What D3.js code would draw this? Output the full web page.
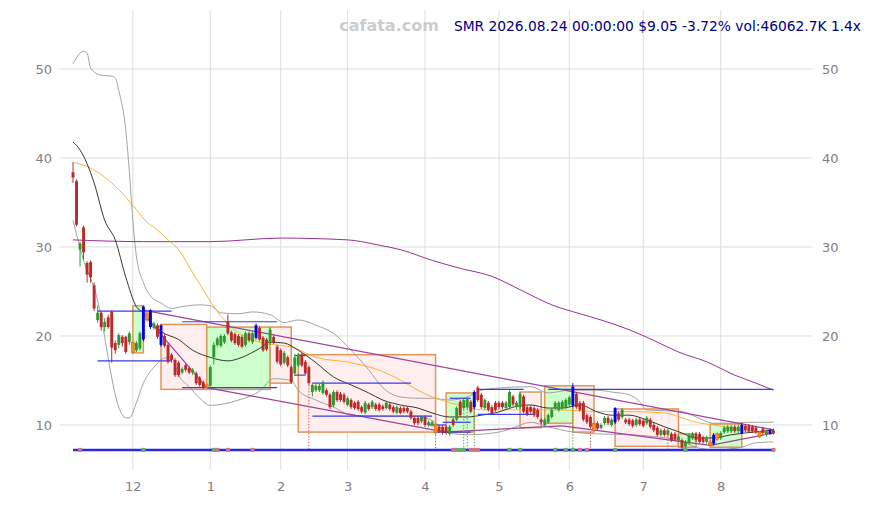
<!DOCTYPE html>
<html>
<head>
<meta charset="utf-8">
<script src="https://cdn.jsdelivr.net/npm/d3@7"></script>
<style>
  body { margin: 0; background: #fff; }
  svg { display: block; font-family: "DejaVu Sans", sans-serif; }
</style>
</head>
<body>
<svg id="chart"></svg>
<script>
// ---- data ----
const ticker = "SMR";
const titleText = "SMR 2026.08.24 00:00:00 $9.05 -3.72% vol:46062.7K 1.4x";
const firstDay = "2025-11-05";
const holidays = ["2025-11-27", "2025-12-25", "2026-01-01", "2026-01-19", "2026-02-16",
                  "2026-04-03", "2026-05-25", "2026-06-19", "2026-07-03"];

const open = [
  38.4, 37.4, 29.7, 32.2, 28.2, 28.3, 25.7, 21.8, 22.6, 21.0,
  22.1, 22.7, 19.2, 19.0, 19.9, 19.9, 19.3, 19.3, 18.4, 18.6,
  19.6, 22.6, 22.9, 20.9, 21.2, 21.2, 20.0, 19.0, 17.9, 17.3,
  17.0, 15.9, 16.7, 16.4, 15.85, 15.8, 15.3, 14.8, 14.5, 14.4,
  17.6, 19.0, 18.9, 19.3, 21.6, 20.4, 20.2, 20.0, 19.9, 19.0,
  20.3, 19.3, 19.8, 20.9, 19.8, 19.6, 19.2, 19.9, 18.8, 18.4,
  16.97, 17.6, 16.5, 15.8, 16.7, 17.9, 17.1, 16.5, 13.7, 13.9,
  13.9, 13.6, 13.9, 13.4, 12.2, 13.7, 13.5, 13.4, 12.25, 12.8,
  12.5, 12.6, 12.0, 11.4, 12.3, 12.0, 12.3, 12.3, 12.1, 11.9,
  12.3, 12.0, 11.4, 11.9, 11.9, 11.9, 11.5, 10.8, 10.8, 10.4,
  10.9, 10.0, 10.0, 10.1, 9.8, 9.8, 9.8, 9.0, 10.6, 10.6,
  12.6, 11.9, 12.0, 12.6, 12.0, 14.2, 13.4, 11.9, 12.5, 12.0,
  12.5, 12.5, 12.5, 11.9, 12.0, 13.2, 12.0, 12.0, 13.2, 12.0,
  12.0, 11.9, 11.7, 10.6, 10.0, 10.3, 10.9, 11.9, 11.7, 11.9,
  12.0, 12.3, 12.2, 13.5, 12.5, 12.5, 11.1, 10.9, 10.2, 10.2,
  9.66, 10.2, 10.8, 10.0, 10.3, 11.3, 10.9, 10.6, 10.6, 10.5,
  10.0, 10.6, 10.5, 10.2, 10.6, 10.0, 9.7, 8.9, 9.4, 8.9,
  9.0, 9.0, 8.3, 8.3, 7.6, 8.0, 8.5, 9.0, 9.0, 8.6,
  8.1, 8.1, 7.9, 9.0, 8.5, 9.2, 9.3, 9.3, 9.8, 9.3,
  9.1, 9.9, 9.9, 9.8, 9.7, 9.2, 9.6, 8.9, 9.0, 9.4
];
const close = [
  37.8, 32.5, 30.4, 29.4, 26.9, 26.6, 23.1, 22.6, 21.0, 21.6,
  21.0, 18.7, 18.4, 20.1, 19.2, 18.2, 20.3, 18.1, 19.2, 20.3,
  23.3, 21.8, 21.0, 21.4, 19.9, 19.0, 18.9, 17.1, 17.3, 15.6,
  15.6, 16.3, 16.2, 15.9, 16.2, 14.7, 14.5, 14.2, 14.2, 16.5,
  19.0, 19.7, 20.0, 20.0, 20.3, 19.5, 19.2, 19.0, 18.8, 20.3,
  19.5, 20.3, 21.2, 19.6, 18.4, 18.5, 20.7, 19.3, 17.1, 16.8,
  18.1, 16.7, 14.8, 17.6, 17.9, 16.7, 15.8, 14.7, 14.5, 14.4,
  14.4, 14.8, 13.4, 12.0, 13.7, 12.8, 12.8, 12.6, 13.0, 12.0,
  11.9, 11.8, 11.5, 12.5, 11.8, 12.6, 11.8, 11.7, 11.8, 12.5,
  11.8, 11.5, 12.0, 11.35, 11.5, 11.5, 10.8, 10.2, 10.2, 10.9,
  10.0, 10.3, 10.3, 9.1, 9.3, 9.1, 9.1, 9.8, 10.0, 11.9,
  11.1, 12.8, 12.9, 11.5, 13.7, 12.8, 12.0, 12.8, 11.7, 11.35,
  11.7, 12.0, 12.0, 12.5, 13.7, 12.3, 12.5, 13.5, 11.5, 11.2,
  11.5, 11.1, 10.9, 10.3, 10.6, 11.1, 11.7, 12.5, 12.5, 12.6,
  12.8, 13.1, 14.3, 12.0, 11.7, 10.6, 10.3, 9.8, 9.4, 9.6,
  10.0, 10.8, 10.2, 10.6, 11.9, 10.6, 11.7, 10.3, 10.1, 9.9,
  10.6, 10.1, 9.9, 10.8, 9.8, 9.4, 8.9, 9.4, 8.9, 9.4,
  8.3, 8.4, 8.7, 7.5, 8.1, 8.9, 9.0, 8.3, 8.1, 8.1,
  8.6, 7.7, 8.9, 8.4, 9.1, 9.7, 9.8, 9.8, 9.3, 9.8,
  10.0, 9.4, 9.3, 9.3, 9.2, 8.65, 9.1, 9.3, 9.4, 9.05
];
const high = [
  39.5, 37.6, 30.6, 32.4, 28.4, 28.5, 26.0, 23.4, 22.8, 22.0,
  22.4, 22.9, 19.5, 20.3, 20.1, 20.0, 20.5, 19.5, 19.4, 20.5,
  23.4, 22.8, 23.0, 21.6, 21.4, 21.3, 20.2, 19.2, 18.1, 17.5,
  17.2, 16.5, 16.9, 16.6, 16.4, 16.0, 15.5, 15.0, 14.8, 16.7,
  19.3, 19.9, 20.2, 20.2, 22.4, 20.6, 20.4, 20.2, 20.1, 20.5,
  20.5, 20.5, 21.4, 21.1, 20.0, 19.8, 20.9, 20.1, 19.0, 18.6,
  18.3, 17.8, 16.7, 18.0, 18.1, 18.1, 17.3, 16.7, 14.7, 14.6,
  14.6, 15.0, 14.1, 13.6, 13.9, 13.9, 13.7, 13.6, 13.2, 13.0,
  12.7, 12.8, 12.2, 12.7, 12.5, 12.8, 12.5, 12.5, 12.3, 12.7,
  12.5, 12.2, 12.2, 12.1, 12.1, 12.1, 11.7, 11.0, 11.0, 11.1,
  11.1, 10.5, 10.5, 10.3, 10.0, 10.0, 10.0, 10.0, 10.8, 12.1,
  12.8, 13.0, 13.1, 12.8, 13.9, 14.4, 13.6, 13.0, 12.7, 12.2,
  12.7, 12.7, 12.7, 12.7, 13.9, 13.4, 12.7, 13.7, 13.4, 12.2,
  12.2, 12.1, 11.9, 10.8, 10.8, 11.3, 11.9, 12.7, 12.7, 12.8,
  13.0, 13.3, 14.7, 13.7, 12.7, 12.7, 11.3, 11.1, 10.4, 10.4,
  10.2, 11.0, 11.0, 10.8, 12.0, 11.5, 11.9, 10.8, 10.8, 10.7,
  10.8, 10.8, 10.7, 11.0, 10.8, 10.2, 9.9, 9.6, 9.6, 9.6,
  9.2, 9.2, 8.9, 8.5, 8.3, 9.1, 9.2, 9.2, 9.2, 8.8,
  8.8, 8.3, 9.1, 9.2, 9.3, 9.9, 10.0, 10.0, 10.0, 10.0,
  10.2, 10.1, 10.1, 10.0, 9.9, 9.4, 9.8, 9.5, 9.6, 9.6
];
const low = [
  37.2, 32.3, 27.8, 28.6, 26.0, 26.0, 22.8, 21.5, 20.6, 20.5,
  20.8, 17.0, 18.0, 18.6, 18.8, 18.0, 19.0, 18.0, 18.2, 18.4,
  19.4, 21.6, 20.8, 20.7, 19.7, 18.8, 18.7, 16.9, 17.0, 15.4,
  15.4, 15.7, 16.0, 15.7, 15.6, 14.5, 14.3, 14.0, 14.0, 14.3,
  16.8, 18.8, 18.7, 19.1, 20.1, 19.3, 19.0, 18.8, 18.6, 18.8,
  19.3, 19.1, 19.6, 19.4, 18.2, 18.3, 19.0, 19.1, 16.9, 16.6,
  16.8, 16.5, 14.6, 15.5, 16.5, 16.5, 15.6, 14.5, 13.2, 13.7,
  13.7, 13.4, 13.2, 11.8, 12.0, 12.6, 12.6, 12.4, 12.1, 11.8,
  11.7, 11.6, 11.3, 11.2, 11.6, 11.8, 11.6, 11.5, 11.6, 11.7,
  11.6, 11.3, 11.2, 11.2, 11.3, 11.3, 10.6, 10.0, 10.0, 10.2,
  9.8, 9.8, 9.8, 8.9, 9.1, 8.9, 8.9, 8.8, 9.8, 10.4,
  10.9, 11.7, 11.8, 11.3, 11.8, 12.6, 11.8, 11.7, 11.5, 11.2,
  11.5, 11.8, 11.8, 11.7, 11.8, 12.1, 11.8, 11.8, 11.3, 11.0,
  11.3, 10.9, 10.7, 10.1, 9.8, 10.1, 10.7, 11.7, 11.5, 11.7,
  11.8, 12.1, 12.0, 11.8, 11.5, 10.4, 10.1, 9.6, 9.2, 9.4,
  9.5, 10.0, 10.0, 9.8, 10.1, 10.4, 10.7, 10.1, 9.9, 9.7,
  9.8, 9.9, 9.7, 10.0, 9.6, 9.2, 8.7, 8.7, 8.7, 8.7,
  8.1, 8.2, 8.1, 7.3, 7.4, 7.8, 8.3, 8.1, 7.9, 7.9,
  7.9, 7.5, 7.7, 8.2, 8.3, 9.0, 9.1, 9.1, 9.1, 9.1,
  9.0, 9.2, 9.1, 9.1, 9.0, 8.5, 8.9, 8.7, 8.9, 8.9
];
// candles drawn in signal colours
const blueIdx = [20, 22, 25, 52, 114, 142, 154, 182, 190, 198];
const orangeIdx = [17, 21, 38, 103, 148, 181, 183, 195];

// indicator lines: [candle index, price]
const ma20 = [[0,41.8],[2,40.9],[6,37.2],[9,33.0],[12,30.8],[15,26.6],[18,23.3],[20,22.6],[22,21.6],
  [25,20.5],[30,19.6],[34,18.4],[39,17.6],[44,17.2],[48,17.6],[53,18.6],[56,19.3],[60,19.2],
  [64,18.4],[69,17.0],[74,15.4],[79,14.5],[84,13.6],[88,12.8],[93,12.25],[98,11.9],[102,11.35],
  [107,10.9],[112,10.9],[116,11.1],[121,11.46],[125,12.0],[130,12.25],[135,11.9],[139,11.9],
  [144,12.25],[149,11.46],[153,11.1],[158,11.1],[163,10.56],[168,9.8],[173,9.1],[177,8.54],
  [182,8.54],[187,8.9],[191,9.1],[199,9.44]];
const ma50 = [[0,39.5],[3,39.2],[7,38.4],[11,37.2],[15,35.6],[18,34.2],[21,32.8],[24,31.9],[27,30.8],
  [30,29.7],[34,27.1],[37,25.2],[40,23.3],[45,21.0],[49,19.9],[53,19.3],[63,18.65],[69,17.6],
  [79,17.0],[88,16.0],[93,15.05],[98,13.9],[102,13.15],[107,12.5],[112,12.0],[116,11.7],
  [125,11.7],[135,11.7],[144,11.6],[149,11.5],[158,11.5],[168,11.35],[173,10.8],[177,10.3],
  [182,10.0],[187,9.66],[191,9.3],[199,9.1]];
const ma200 = [[0,30.8],[20,30.6],[39,30.6],[59,31.0],[78,30.8],[87,30.2],[93,29.7],[102,28.5],
  [110,27.6],[119,26.7],[127,25.2],[136,23.5],[144,22.5],[150,21.8],[158,20.7],[165,19.5],
  [172,18.2],[180,17.1],[188,15.6],[194,14.7],[199,13.9]];
const bandUpper = [[0,50.6],[3,52.0],[4,51.8],[5,50.1],[8,49.3],[11,49.2],[12,49.0],[13,47.6],
  [15,43.1],[16,38.5],[17,33.0],[18,29.0],[20,26.0],[22,24.5],[25,23.7],[28,23.1],[31,23.3],
  [36,23.5],[39,23.4],[42,22.6],[47,22.5],[51,22.7],[56,22.4],[60,21.5],[64,21.8],[69,21.2],
  [74,20.3],[79,18.4],[84,16.2],[88,14.2],[93,13.15],[98,13.0],[102,13.0],[107,12.8],
  [112,13.15],[116,13.9],[121,14.16],[130,14.3],[135,13.6],[141,13.9],[149,13.9],[153,13.7],
  [158,13.4],[161,12.6],[163,11.7],[173,11.5],[177,10.9],[182,10.2],[187,10.2],[191,10.3],[199,10.3]];
const bandLower = [[0,33.0],[3,28.5],[7,24.0],[9,19.9],[10,17.5],[13,12.0],[15,10.8],[16,10.8],
  [18,12.5],[20,14.7],[23,16.5],[26,17.5],[28,17.6],[30,15.6],[33,14.3],[36,13.0],[39,12.2],
  [47,12.8],[53,13.8],[57,15.2],[62,15.0],[64,13.9],[69,12.8],[74,12.0],[79,11.1],[87,11.0],
  [98,11.0],[102,10.5],[107,9.1],[112,8.9],[121,9.2],[125,9.66],[130,10.3],[135,9.8],
  [142,9.2],[149,9.0],[158,8.9],[172,8.3],[177,7.5],[182,7.2],[190,7.5],[194,8.0],[199,8.1]];

// trend lines: [start index, start price, end index, end price]
const trendLines = [[20,22.9,199,9.45],[21,22.0,38,14.2],[38,14.2,105,9.25],
  [105,9.2,139,9.9],[139,9.9,181,7.7],[181,7.7,199,9.1]];
// support / resistance segments: [start index, end index, price]
const levels = [[7,28,22.8],[7,28,17.2],[31,58,21.6],[31,58,14.2],[63,66,17.8],[63,66,15.6],
  [68,96,14.7],[68,102,11.0],[101,106,10.0],[103,113,9.2],[107,113,13.0],[105,113,10.3],
  [115,128,14.0],[115,131,11.2],[135,199,14.0]];
const baseLevel = 7.2;
// boxes: [start index, end index, top, bottom, kind]
const boxes = [[17,20,23.4,18.1,"up"],[25,38,21.3,14.0,"down"],[38,56,21.0,14.0,"up"],
  [56,62,21.0,14.7,"down"],[64,103,17.9,9.2,"down"],[106,114,13.6,9.2,"up"],
  [127,133,13.7,9.7,"down"],[134,142,14.4,10.2,"up"],[142,148,14.4,9.2,"down"],
  [154,172,11.8,7.6,"down"],[172,177,9.0,7.5,"up"],[181,190,10.1,7.5,"up"]];
// signal markers on the base line and dotted drops
const upMarks = [20, 40, 109, 110, 111, 124, 127, 137, 140, 142, 154, 174];
const downMarks = [2, 41, 44, 51, 108, 113, 114, 115, 144, 146, 199];
const upDrops = [111, 112, 114, 142];
const downDrops = [67, 103, 147, 169];

const yTicks = [10, 20, 30, 40, 50];

// ---- trading calendar ----
const parse = d3.utcParse("%Y-%m-%d");
const fmt = d3.utcFormat("%Y-%m-%d");
const dates = [];
let day = parse(firstDay);
while (dates.length < close.length) {
  const wd = day.getUTCDay();
  if (wd !== 0 && wd !== 6 && !holidays.includes(fmt(day))) dates.push(day);
  day = d3.utcDay.offset(day, 1);
}
const monthStarts = [];
dates.forEach((d, i) => {
  if (i > 0 && d.getUTCMonth() !== dates[i - 1].getUTCMonth()) monthStarts.push(i);
});

// ---- layout ----
const W = 871, H = 505;
const plot = { left: 60, right: 812, top: 10, bottom: 470 };

const svg = d3.select("#chart").attr("width", W).attr("height", H);

const x = d3.scaleLinear().domain([0, close.length - 1]).range([73, 773.5]);
const y = d3.scaleLinear().domain([4.94, 56.63]).range([plot.bottom, plot.top]);

// grid
svg.append("g").selectAll("line").data(yTicks).join("line")
  .attr("x1", plot.left).attr("x2", plot.right)
  .attr("y1", d => y(d)).attr("y2", d => y(d))
  .attr("stroke", "#dedede").attr("stroke-width", 1);
svg.append("g").selectAll("line").data(monthStarts).join("line")
  .attr("x1", d => x(d)).attr("x2", d => x(d))
  .attr("y1", plot.top).attr("y2", plot.bottom)
  .attr("stroke", "#dedede").attr("stroke-width", 1);

// axes
const axisL = svg.append("g").attr("transform", `translate(${plot.left - 8},0)`)
  .call(d3.axisLeft(y).tickValues(yTicks).tickSize(0).tickPadding(0));
const axisR = svg.append("g").attr("transform", `translate(${plot.right + 10},0)`)
  .call(d3.axisRight(y).tickValues(yTicks).tickSize(0).tickPadding(0));
const axisB = svg.append("g").attr("transform", `translate(0,${plot.bottom + 8})`)
  .call(d3.axisBottom(x).tickValues(monthStarts).tickSize(0).tickPadding(4)
    .tickFormat(i => String(dates[i].getUTCMonth() + 1)));
[axisL, axisR, axisB].forEach(a => {
  a.select(".domain").remove();
  a.selectAll("text").attr("fill", "#808080").style("font-size", "13px")
    .style("font-family", "DejaVu Sans, sans-serif");
});

// boxes
svg.append("g").selectAll("rect").data(boxes).join("rect")
  .attr("x", d => x(d[0])).attr("width", d => x(d[1]) - x(d[0]))
  .attr("y", d => y(d[2])).attr("height", d => y(d[3]) - y(d[2]))
  .attr("fill", d => d[4] === "up" ? "#ccffcc" : "#ffeeee")
  .attr("stroke", "#e0955a").attr("stroke-width", 1.5);

// indicator lines
const line = d3.line().x(d => x(d[0])).y(d => y(d[1])).curve(d3.curveMonotoneX);
const drawLine = (data, color, width) => svg.append("path").datum(data)
  .attr("d", line).attr("fill", "none").attr("stroke", color).attr("stroke-width", width);
drawLine(bandUpper, "#999999", 0.9);
drawLine(bandLower, "#999999", 0.9);
drawLine(ma200, "#8b1a8b", 0.9);
drawLine(ma50, "#ffaa22", 0.9);
drawLine(ma20, "#222222", 0.9);

// trend lines
svg.append("g").selectAll("line").data(trendLines).join("line")
  .attr("x1", d => x(d[0])).attr("y1", d => y(d[1]))
  .attr("x2", d => x(d[2])).attr("y2", d => y(d[3]))
  .attr("stroke", "#a040a0").attr("stroke-width", 1.2);

// levels
svg.append("g").selectAll("line").data(levels).join("line")
  .attr("x1", d => x(d[0])).attr("x2", d => x(d[1]))
  .attr("y1", d => y(d[2])).attr("y2", d => y(d[2]))
  .attr("stroke", "#3a3aee").attr("stroke-width", 1.2);

// dotted drops
const drops = upDrops.map(i => [i, "#55aa55"]).concat(downDrops.map(i => [i, "#cc6666"]));
svg.append("g").selectAll("line").data(drops).join("line")
  .attr("x1", d => x(d[0])).attr("x2", d => x(d[0]))
  .attr("y1", d => y(low[d[0]])).attr("y2", y(baseLevel))
  .attr("stroke", d => d[1]).attr("stroke-width", 1).attr("stroke-dasharray", "1.5,1.5");

// candles
const candleColor = i => blueIdx.includes(i) ? "#0000ee"
  : orangeIdx.includes(i) ? "#ff8c1a"
  : close[i] >= open[i] ? "#2e9a2e" : "#bb2a2a";
const idx = d3.range(close.length);
const bodyW = 2.9;
const candles = svg.append("g");
candles.selectAll("line").data(idx).join("line")
  .attr("x1", i => x(i)).attr("x2", i => x(i))
  .attr("y1", i => y(high[i])).attr("y2", i => y(low[i]))
  .attr("stroke", candleColor).attr("stroke-width", 1);
candles.selectAll("rect").data(idx).join("rect")
  .attr("x", i => x(i) - bodyW / 2).attr("width", bodyW)
  .attr("y", i => y(Math.max(open[i], close[i])))
  .attr("height", i => Math.max(1, Math.abs(y(open[i]) - y(close[i]))))
  .attr("fill", candleColor)
  .attr("stroke", i => orangeIdx.includes(i) ? "#c06a10" : "none").attr("stroke-width", 0.6);

// base line
svg.append("line")
  .attr("x1", x(0)).attr("x2", x(close.length - 1))
  .attr("y1", y(baseLevel)).attr("y2", y(baseLevel))
  .attr("stroke", "#2a2ae0").attr("stroke-width", 2.5);

// markers on base line
const marks = upMarks.map(i => [i, "#66aa77"]).concat(downMarks.map(i => [i, "#cc7788"]));
svg.append("g").selectAll("rect").data(marks).join("rect")
  .attr("x", d => x(d[0]) - 2).attr("y", y(baseLevel) - 2)
  .attr("width", 4).attr("height", 4).attr("fill", d => d[1]);

// title and watermark
svg.append("text").attr("x", 389).attr("y", 31).attr("text-anchor", "middle")
  .attr("fill", "#cccccc").style("font-size", "16px").style("font-weight", "bold")
  .text("cafata.com");
svg.append("text").attr("x", 861).attr("y", 31).attr("text-anchor", "end")
  .attr("fill", "#000080").style("font-size", "13.8px")
  .text(titleText);
</script>
</body>
</html>
